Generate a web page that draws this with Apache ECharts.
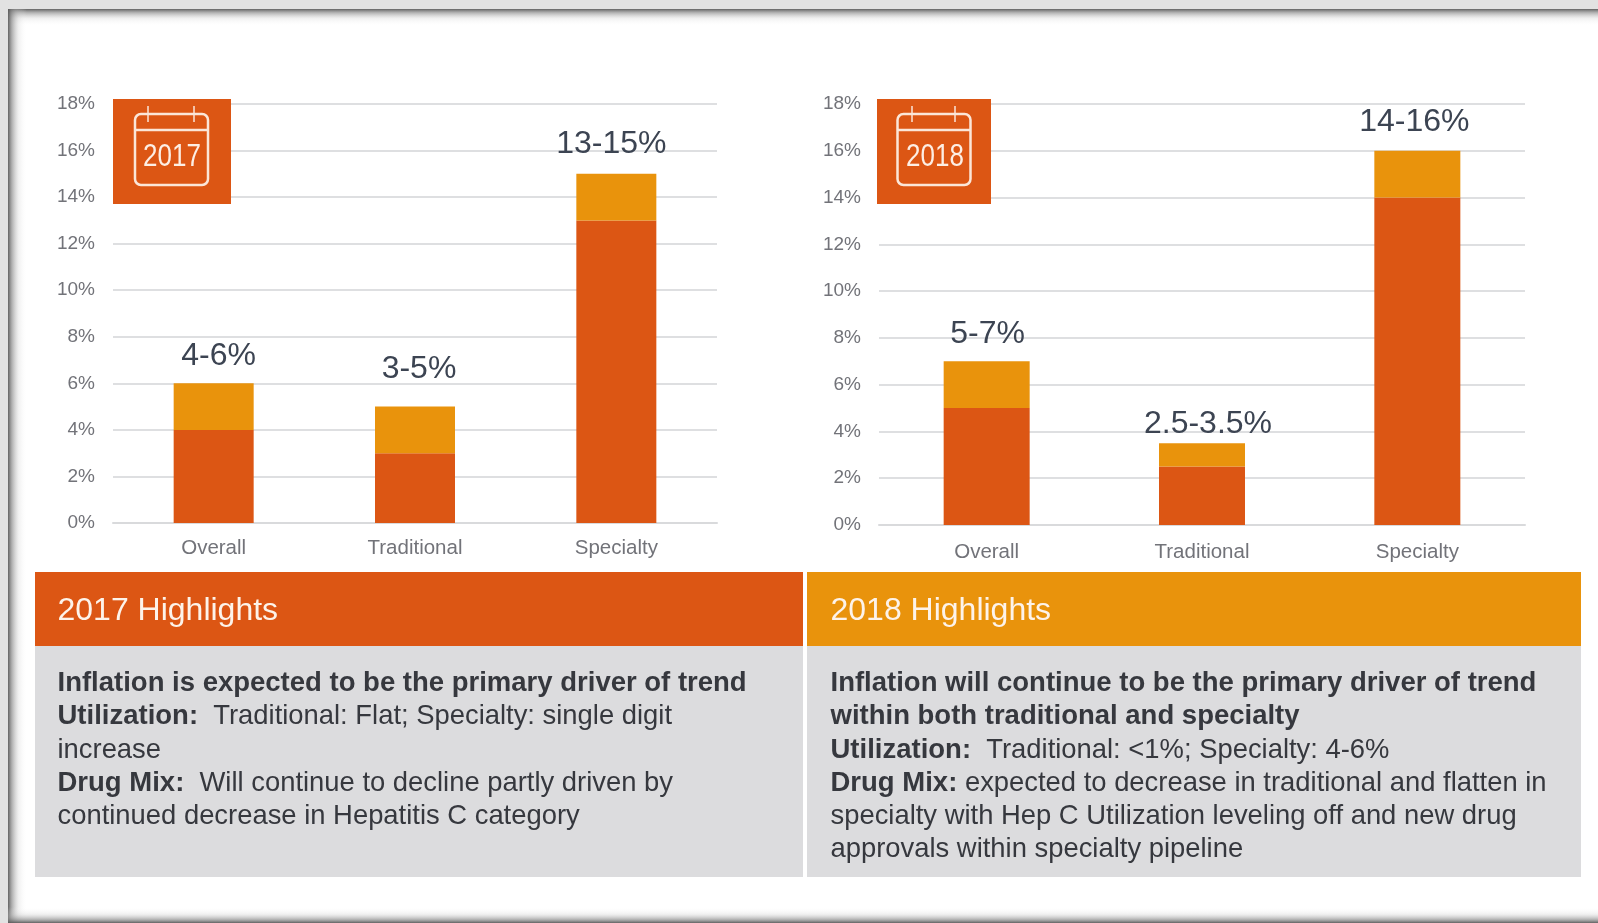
<!DOCTYPE html>
<html>
<head>
<meta charset="utf-8">
<style>html,body{margin:0;padding:0;background:#fff}#chart{width:1598px;height:923px}</style>
<script src="https://cdn.jsdelivr.net/npm/echarts@6/dist/echarts.min.js"></script>
</head>
<body>
<div id="chart"></div>
<script>
// Drug trend forecast, two years side by side
const categories = ['Overall', 'Traditional', 'Specialty'];
const low2017 = [4, 3, 13];
const high2017 = [6, 5, 15];
const low2018 = [5, 2.5, 14];
const high2018 = [7, 3.5, 16];
const yTicks = [0, 2, 4, 6, 8, 10, 12, 14, 16, 18];

const ORANGE = '#dc5614';
const AMBER = '#e9930c';
const PANEL = '#dcdcde';
const FONT = '"Liberation Sans", Arial, sans-serif';
const AXIS_TEXT = '#727379';
const BODY_TEXT = '#36383e';

const rangeLabel = (lo, hi) => lo + '-' + hi + '%';

// Highlight copy: b marks the bold runs, n the regular ones
const body2017 = [
  '{b|Inflation is expected to be the primary driver of trend}',
  '{b|Utilization:}{n|  Traditional: Flat; Specialty: single digit}',
  '{n|increase}',
  '{b|Drug Mix:}{n|  Will continue to decline partly driven by}',
  '{n|continued decrease in Hepatitis C category}'
];
const body2018 = [
  '{b|Inflation will continue to be the primary driver of trend}',
  '{b|within both traditional and specialty}',
  '{b|Utilization:}{n|  Traditional: <1%; Specialty: 4-6%}',
  '{b|Drug Mix:}{n| expected to decrease in traditional and flatten in}',
  '{n|specialty with Hep C Utilization leveling off and new drug}',
  '{n|approvals within specialty pipeline}'
];

const chart = echarts.init(document.getElementById('chart'), null, { renderer: 'canvas' });

function grid(left, top, width, height) {
  return { left, top, width, height, containLabel: false };
}

function xAxis(gridIndex, margin) {
  return {
    gridIndex, type: 'category', data: categories,
    axisLine: { show: true, lineStyle: { color: '#d9dadc', width: 2 } },
    axisTick: { show: false },
    axisLabel: { color: AXIS_TEXT, fontFamily: FONT, fontSize: 20.5, margin }
  };
}

function yAxis(gridIndex) {
  return {
    gridIndex, type: 'value', min: 0, max: 18, interval: 2,
    axisLine: { show: false }, axisTick: { show: false },
    splitLine: { lineStyle: { color: '#dedfe1', width: 2 } },
    axisLabel: {
      color: AXIS_TEXT, fontFamily: FONT, fontSize: 19, margin: 18,
      padding: [2, 0, 0, 0],
      formatter: v => yTicks.includes(v) ? v + '%' : ''
    }
  };
}

function stacked(axisIndex, stack, low, high, barWidth, labelShift) {
  return [
    {
      type: 'bar', stack, xAxisIndex: axisIndex, yAxisIndex: axisIndex,
      barWidth, itemStyle: { color: ORANGE }, data: low
    },
    {
      type: 'bar', stack, xAxisIndex: axisIndex, yAxisIndex: axisIndex,
      barWidth, itemStyle: { color: AMBER },
      data: high.map((h, i) => ({
        value: h - low[i],
        label: {
          show: true, position: 'top',
          offset: labelShift[i],
          formatter: rangeLabel(low[i], high[i]),
          color: '#3c4452', fontFamily: FONT, fontSize: 32
        }
      }))
    }
  ];
}

function calendarBadge(x, textX, rectX, peg1, peg2, year) {
  const line = { stroke: '#fbe6d8', lineWidth: 2.5 };
  return [
    { type: 'rect', z: 20, shape: { x, y: 99, width: x === 113 ? 118 : 114, height: 105 }, style: { fill: ORANGE } },
    { type: 'rect', z: 21, shape: { x: rectX, y: 114, width: 73, height: 71, r: 6 }, style: { fill: null, ...line } },
    { type: 'line', z: 21, shape: { x1: rectX, y1: 130, x2: rectX + 73, y2: 130 }, style: line },
    { type: 'line', z: 21, shape: { x1: peg1, y1: 106, x2: peg1, y2: 122 }, style: { ...line, lineWidth: 1.5 } },
    { type: 'line', z: 21, shape: { x1: peg2, y1: 106, x2: peg2, y2: 122 }, style: { ...line, lineWidth: 1.5 } },
    {
      type: 'text', z: 22, x: textX, y: 158, scaleY: 1.18,
      style: { text: year, fill: '#fdeee4', font: '26px ' + FONT, align: 'center', verticalAlign: 'middle' }
    }
  ];
}

function panel(x, width, textX, headFill, title, lines) {
  return [
    { type: 'rect', z: 5, shape: { x, y: 572, width, height: 74 }, style: { fill: headFill } },
    { type: 'rect', z: 5, shape: { x, y: 646, width, height: 231 }, style: { fill: PANEL } },
    {
      type: 'text', z: 6, x: textX, y: 611.5,
      style: { text: title, fill: '#fdf3ea', font: '32px ' + FONT, verticalAlign: 'middle' }
    },
    {
      type: 'text', z: 6, x: textX, y: 667,
      style: {
        text: lines.join('\n'), fill: BODY_TEXT, verticalAlign: 'top',
        rich: {
          b: { font: 'bold 27.5px ' + FONT, fill: BODY_TEXT, color: BODY_TEXT, lineHeight: 33.2 },
          n: { font: '27.4px ' + FONT, fill: BODY_TEXT, color: BODY_TEXT, lineHeight: 33.2 }
        }
      }
    }
  ];
}

// Soft inner shadow of the surrounding picture frame
function frame() {
  const fade = (x, y, x2, y2) => ({
    type: 'linear', x, y, x2, y2,
    colorStops: [
      { offset: 0, color: 'rgba(90,90,90,0.95)' },
      { offset: 0.2, color: 'rgba(130,130,130,0.65)' },
      { offset: 0.55, color: 'rgba(200,200,200,0.28)' },
      { offset: 1, color: 'rgba(255,255,255,0)' }
    ]
  });
  return [
    { type: 'rect', z: 30, shape: { x: 8, y: 9, width: 1590, height: 17 }, style: { fill: fade(0, 0, 0, 1) } },
    { type: 'rect', z: 30, shape: { x: 8, y: 9, width: 19, height: 914 }, style: { fill: fade(0, 0, 1, 0) } },
    { type: 'rect', z: 30, shape: { x: 8, y: 907, width: 1590, height: 16 }, style: { fill: fade(0, 1, 0, 0) } },
    { type: 'rect', z: 31, shape: { x: 0, y: 0, width: 1598, height: 9 }, style: { fill: '#e2e2e2' } },
    { type: 'rect', z: 31, shape: { x: 0, y: 0, width: 8, height: 923 }, style: { fill: '#e2e2e2' } }
  ];
}

chart.setOption({
  animation: false,
  backgroundColor: '#ffffff',
  grid: [grid(113, 104, 604, 419), grid(879, 104, 646, 421)],
  xAxis: [xAxis(0, 15), xAxis(1, 17)],
  yAxis: [yAxis(0), yAxis(1)],
  series: [
    ...stacked(0, 'y2017', low2017, high2017, 80, [[5, -6], [4, -16], [-5, -9]]),
    ...stacked(1, 'y2018', low2018, high2018, 86, [[1, -6], [6, 2], [-3, -8]])
  ],
  graphic: [
    ...calendarBadge(113, 172, 135, 148, 194, '2017'),
    ...calendarBadge(877, 935, 897.5, 912, 955, '2018'),
    ...panel(35, 768, 57.5, ORANGE, '2017 Highlights', body2017),
    ...panel(807, 774, 830.5, AMBER, '2018 Highlights', body2018),
    ...frame()
  ]
});
</script>
</body>
</html>
